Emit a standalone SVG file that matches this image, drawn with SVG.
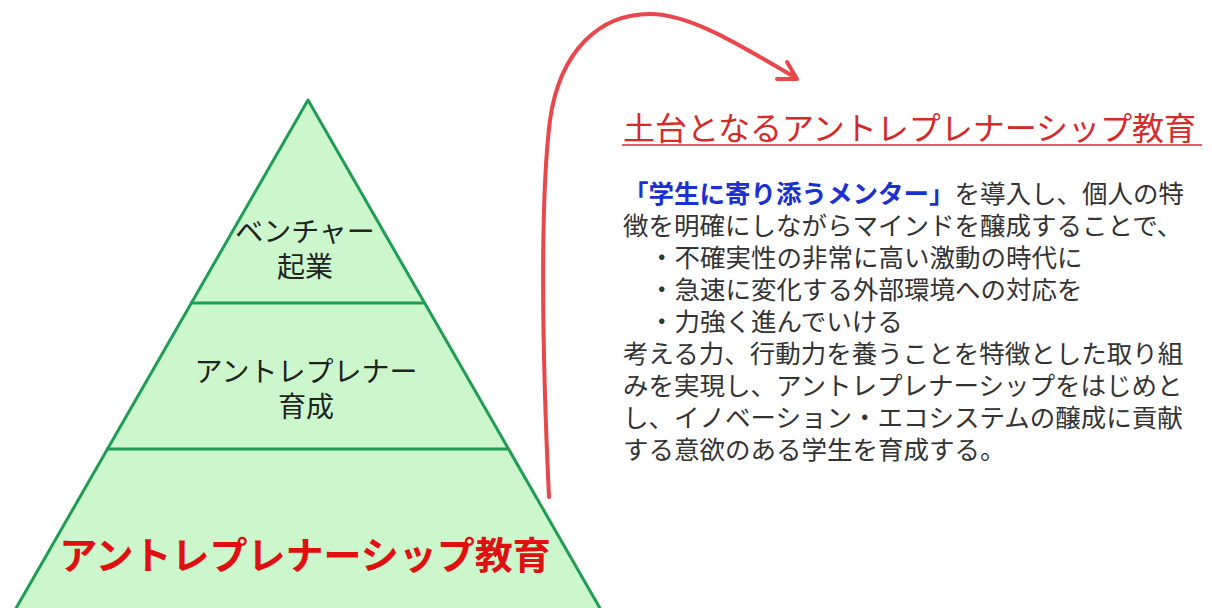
<svg xmlns="http://www.w3.org/2000/svg" width="1212" height="608" viewBox="0 0 1212 608">
<style>
  .jp { font-family: "Noto Sans CJK JP", "Noto Sans", sans-serif; }
  .tier { fill: #222222; font-size: 28px; text-anchor: middle; }
  .body { fill: #333333; font-size: 25.5px; }
  .edge { stroke: #1f9d55; stroke-width: 3; fill: none; }
  .arrow { stroke: #e8474c; stroke-width: 4; fill: none; stroke-linecap: round; stroke-linejoin: round; }
</style>
<rect width="1212" height="608" fill="#ffffff"/>
<g id="pyramid">
  <polygon points="308,100 601,610 15,610" fill="#ccf7cc" stroke="#1f9d55" stroke-width="3" stroke-linejoin="round"/>
  <line class="edge" x1="190" y1="303" x2="425" y2="303"/>
  <line class="edge" x1="106" y1="449" x2="509" y2="449"/>
</g>
<g id="tier-venture">
  <text class="jp tier" x="305" y="242">ベンチャー</text>
  <text class="jp tier" x="305" y="277">起業</text>
</g>
<g id="tier-ikusei">
  <text class="jp tier" x="306" y="382">アントレプレナー</text>
  <text class="jp tier" x="306" y="417">育成</text>
</g>
<g id="tier-education">
  <text class="jp" x="305" y="569" font-size="38" font-weight="bold" fill="#e01010" text-anchor="middle">アントレプレナーシップ教育</text>
</g>
<g id="connectors">
  <path class="arrow" d="M549,497 C542,350 540,200 550,120 C560,50 600,14 650,14 C690,14 740,45 796,78"/>
  <path class="arrow" d="M777,79 L797,79 L787,62"/>
</g>
<g id="description">
  <text class="jp" x="623" y="140" font-size="32" fill="#d42a2a">土台となるアントレプレナーシップ教育</text>
  <line x1="622" y1="145" x2="1202" y2="145" stroke="#d42a2a" stroke-width="1.5"/>
  <text class="jp body" x="623" y="203"><tspan fill="#1a30d0" font-weight="bold">「学生に寄り添うメンター」</tspan>を導入し、個人の特</text>
  <text class="jp body" x="623" y="235">徴を明確にしながらマインドを醸成することで、</text>
  <text class="jp body" x="649" y="267">・不確実性の非常に高い激動の時代に</text>
  <text class="jp body" x="649" y="299">・急速に変化する外部環境への対応を</text>
  <text class="jp body" x="649" y="331">・力強く進んでいける</text>
  <text class="jp body" x="623" y="363">考える力、行動力を養うことを特徴とした取り組</text>
  <text class="jp body" x="623" y="395">みを実現し、アントレプレナーシップをはじめと</text>
  <text class="jp body" x="623" y="427">し、イノベーション・エコシステムの醸成に貢献</text>
  <text class="jp body" x="623" y="459">する意欲のある学生を育成する。</text>
</g>
</svg>
